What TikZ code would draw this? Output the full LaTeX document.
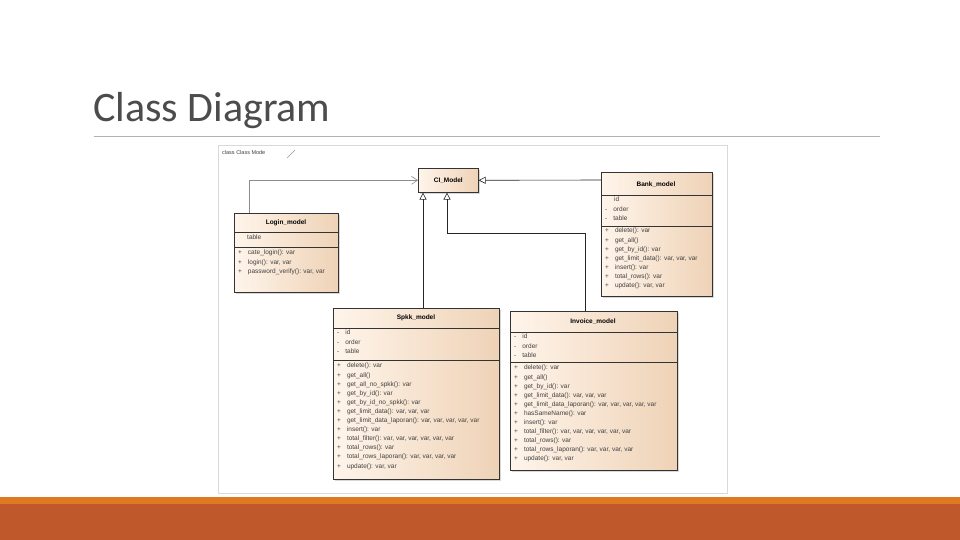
\documentclass[tikz,border=0pt]{standalone}
\usepackage{fontspec}
\setmainfont{Liberation Sans}
\newfontfamily\titlefont{Carlito}
\usetikzlibrary{arrows.meta,shadows}
\definecolor{bandA}{HTML}{E07A22}
\definecolor{bandB}{HTML}{BF582B}
\tikzset{
 cls/.style={draw=black!80,line width=0.6pt,anchor=north west,inner sep=0pt,left color=white!92!orange,right color=orange!25!brown!35!white,drop shadow={shadow xshift=2pt,shadow yshift=-2pt,fill=black!25,opacity=0.6}},
 txt/.style={font=\fontsize{6.5}{9.1}\selectfont,anchor=north west,align=left,inner sep=0pt,text=black!75},
 ttl/.style={font=\fontsize{6.5}{8}\bfseries\selectfont,anchor=center,inner sep=0pt},
 sep/.style={draw=black!80,line width=0.5pt},
 gen/.style={draw=black!85,line width=0.6pt,-{Triangle[open,length=7pt,width=7pt]}},
 dep/.style={draw=black!45,line width=0.6pt,-{Straight Barb[length=6pt,width=8pt]}}
}
\begin{document}
\begin{tikzpicture}[x=1pt,y=-1pt]
\useasboundingbox (0,0) rectangle (960,540);
\fill[white] (0,0) rectangle (960,540);
\node[font=\fontsize{42}{48}\selectfont\titlefont,text=black!70,anchor=base west,inner sep=0] (title) at (93,122) {Class Diagram};
\draw[black!30,line width=0.7pt] (94,136) -- (880,136);
\fill[bandA] (0,497) rectangle (960,504);
\fill[bandB] (0,504) rectangle (960,540);
\draw[black!15,line width=0.8pt] (218,145) rectangle (727,493);
\node[txt,font=\fontsize{5.5}{7}\selectfont] (cap) at (222,150) {class Class Mode};
\draw[black!40,line width=0.4pt] (287,158) -- (295,150);

% CI_Model
\node[cls,minimum width=60pt,minimum height=24pt] (ci) at (418,168) {};
\node[ttl] at (ci.center) {CI\_Model};

% Login
\node[cls,minimum width=104pt,minimum height=79pt] (login) at (234,213) {};
\node[ttl] at (286,223) {Login\_model};
\draw[sep] (234,232) -- (338,232);
\node[txt] at (238,235) {\hspace{9pt}table};
\draw[sep] (234,247) -- (338,247);
\node[txt] at (238,250) {+\hspace{6pt}cate\_login(): var\\+\hspace{6pt}login(): var, var\\+\hspace{6pt}password\_verify(): var, var};

% Bank
\node[cls,minimum width=111pt,minimum height=124pt] (bank) at (601,172) {};
\node[ttl] at (656,185) {Bank\_model};
\draw[sep] (601,195) -- (712,195);
\node[txt] at (605,197) {\hspace{9pt}id\\-\hspace{6pt}order\\-\hspace{6pt}table};
\draw[sep] (601,226) -- (712,226);
\node[txt] at (605,228) {+\hspace{6pt}delete(): var\\+\hspace{6pt}get\_all()\\+\hspace{6pt}get\_by\_id(): var\\+\hspace{6pt}get\_limit\_data(): var, var, var\\+\hspace{6pt}insert(): var\\+\hspace{6pt}total\_rows(): var\\+\hspace{6pt}update(): var, var};

% Spkk
\node[cls,minimum width=166pt,minimum height=171pt] (spkk) at (333,308) {};
\node[ttl] at (416,318) {Spkk\_model};
\draw[sep] (333,328) -- (499,328);
\node[txt] at (337,330) {-\hspace{6pt}id\\-\hspace{6pt}order\\-\hspace{6pt}table};
\draw[sep] (333,360) -- (499,360);
\node[txt] at (337,363) {+\hspace{6pt}delete(): var\\+\hspace{6pt}get\_all()\\+\hspace{6pt}get\_all\_no\_spkk(): var\\+\hspace{6pt}get\_by\_id(): var\\+\hspace{6pt}get\_by\_id\_no\_spkk(): var\\+\hspace{6pt}get\_limit\_data(): var, var, var\\+\hspace{6pt}get\_limit\_data\_laporan(): var, var, var, var, var\\+\hspace{6pt}insert(): var\\+\hspace{6pt}total\_filter(): var, var, var, var, var, var\\+\hspace{6pt}total\_rows(): var\\+\hspace{6pt}total\_rows\_laporan(): var, var, var, var\\+\hspace{6pt}update(): var, var};

% Invoice
\node[cls,minimum width=167pt,minimum height=159pt] (inv) at (510,311) {};
\node[ttl] at (593,322) {Invoice\_model};
\draw[sep] (510,332) -- (677,332);
\node[txt] at (514,334) {-\hspace{6pt}id\\-\hspace{6pt}order\\-\hspace{6pt}table};
\draw[sep] (510,362) -- (677,362);
\node[txt] at (514,365) {+\hspace{6pt}delete(): var\\+\hspace{6pt}get\_all()\\+\hspace{6pt}get\_by\_id(): var\\+\hspace{6pt}get\_limit\_data(): var, var, var\\+\hspace{6pt}get\_limit\_data\_laporan(): var, var, var, var, var\\+\hspace{6pt}hasSameName(): var\\+\hspace{6pt}insert(): var\\+\hspace{6pt}total\_filter(): var, var, var, var, var, var\\+\hspace{6pt}total\_rows(): var\\+\hspace{6pt}total\_rows\_laporan(): var, var, var, var\\+\hspace{6pt}update(): var, var};

% connectors
\draw[dep] (login.north west) ++(15,0) |- (ci.west);
\draw[gen] (bank.north west) ++(0,8) -- (ci.east);
\draw[gen] (spkk.north west) ++(90,0) -- ([xshift=5pt]ci.south west);
\draw[gen] (inv.north west) ++(75,0) |- (447,233) -- ([xshift=29pt]ci.south west);
\end{tikzpicture}
\end{document}
